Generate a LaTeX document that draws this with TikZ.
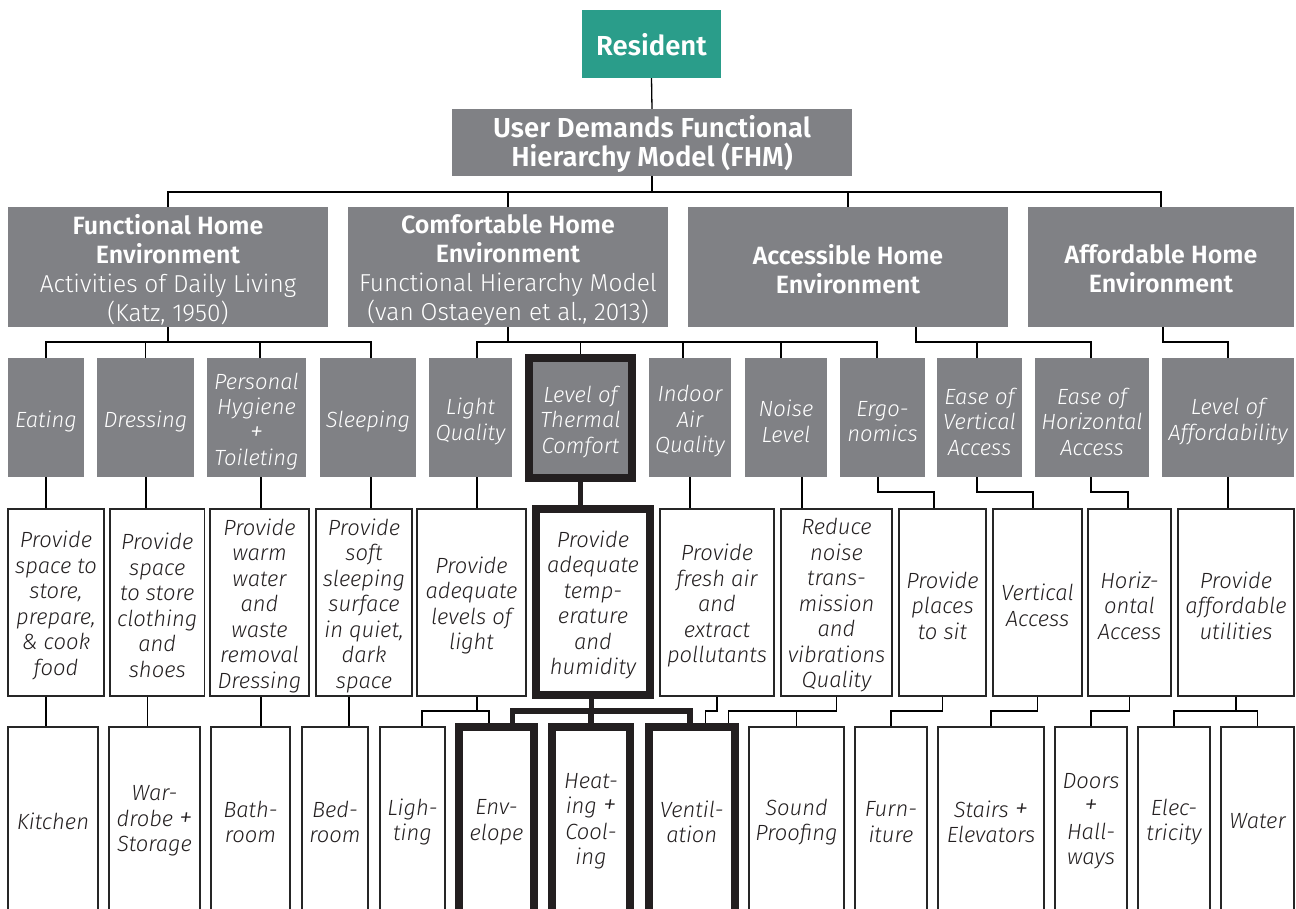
\documentclass[tikz,border=0pt]{standalone}
\usepackage{fontspec}
\setmainfont{Fira Sans}[UprightFont=* Light, ItalicFont=* Light Italic, BoldFont=* SemiBold, BoldItalicFont=* SemiBold Italic]
\definecolor{boxgray}{RGB}{128,129,133}
\definecolor{resteal}{RGB}{42,157,138}
\definecolor{ink}{RGB}{35,31,32}
\newcommand\hdfont{\fontsize{24.5}{29}\selectfont}
\newcommand\bdfont{\fontsize{25}{29}\selectfont\bfseries}
\newcommand\topfont{\fontsize{27.5}{30}\selectfont\bfseries}
\newcommand\itfont{\fontsize{22}{25.5}\selectfont\itshape}
\newcommand\plus{{\fontsize{27}{25.5}\selectfont +}}
% box by its corners: style, name, x1, y1, x2, y2, text, downward text offset
\newcommand\mkbox[8]{%
  \node[#1, minimum width={(#5)-(#3)}, minimum height={(#6)-(#4)}] (#2) at ({((#3)+(#5))/2},{((#4)+(#6))/2}) {};
  \node[#1, fill=none, draw=none] (#2-t) at ([yshift={-(#8)}]#2.center) {#7};}
\pgfdeclarelayer{bg}
\pgfsetlayers{bg,main}
\begin{document}
\begin{tikzpicture}[x=1pt,y=-1pt,
  head/.style={fill=boxgray, text=white, align=center, inner sep=0pt, outer sep=0pt, font=\hdfont},
  res/.style={head, fill=resteal},
  cat/.style={fill=boxgray, text=white, align=center, inner sep=0pt, outer sep=0pt, font=\itfont},
  catsel/.style={cat, draw=ink, line width=8pt},
  req/.style={fill=white, draw=black!85, line width=1.3pt, text=ink, align=center, inner sep=0pt, outer sep=0pt, font=\itfont},
  reqsel/.style={req, draw=ink, line width=8pt},
  conn/.style={draw=black, line width=1.3pt},
  tconn/.style={draw=ink, line width=5.5pt}]
\useasboundingbox (0,0) rectangle (1296,909);

% top of the hierarchy
\mkbox{res}{res}{582}{10}{721}{78}{\topfont Resident}{1}
\mkbox{head}{fhm}{452}{109}{852}{176}{\topfont User Demands Functional\\\topfont Hierarchy Model (FHM)}{1.5}

% home environments
\mkbox{head}{fhe}{8}{207}{328}{327}{\bdfont Functional Home\\\bdfont Environment\\Activities of Daily Living\\(Katz, 1950)}{3}
\mkbox{head}{che}{348}{207}{668}{327}{\bdfont Comfortable Home\\\bdfont Environment\\Functional Hierarchy Model\\(van Ostaeyen et al., 2013)}{3}
\mkbox{head}{ahe}{688}{207}{1008}{327}{\bdfont Accessible Home\\\bdfont Environment}{2}
\mkbox{head}{afe}{1028}{207}{1294}{327}{\bdfont Affordable Home\\\bdfont Environment}{2}

% functions
\mkbox{cat}{eat}{8}{358}{84}{477}{Eating}{4}
\mkbox{cat}{dress}{97}{358}{194}{477}{Dressing}{4}
\mkbox{cat}{hyg}{207}{358}{306}{477}{Personal\\Hygiene\\\plus\\Toileting}{4}
\mkbox{cat}{sleep}{320}{358}{416}{477}{Sleeping}{4}
\mkbox{cat}{lightq}{429}{358}{512}{477}{Light\\Quality}{4}
\mkbox{catsel}{thermal}{529}{358}{632}{477.5}{Level of\\Thermal\\Comfort}{4}
\mkbox{cat}{indoor}{649}{358}{731}{477}{Indoor\\Air\\Quality}{4}
\mkbox{cat}{noise}{745}{358}{827}{477}{Noise\\Level}{4}
\mkbox{cat}{ergo}{840}{358}{925}{477}{Ergo-\\nomics}{4}
\mkbox{cat}{vert}{937}{358}{1022}{477}{Ease of\\Vertical\\Access}{4}
\mkbox{cat}{horiz}{1035}{358}{1149}{477}{Ease of\\Horizontal\\Access}{4}
\mkbox{cat}{aff}{1162}{358}{1294}{477}{Level of\\Affordability}{4}

% requirements
\mkbox{req}{p1}{8}{509}{104}{696}{Provide\\space to\\store,\\prepare,\\\& cook\\food}{3}
\mkbox{req}{p2}{110}{509}{204.5}{696}{Provide\\space\\to store\\clothing\\and\\shoes}{3}
\mkbox{req}{p3}{210}{509}{309}{696}{Provide\\warm\\water\\and\\waste\\removal\\Dressing}{3}
\mkbox{req}{p4}{316}{509}{412}{696}{Provide\\soft\\sleeping\\surface\\in quiet,\\dark\\space}{3}
\mkbox{req}{p5}{417}{509}{526}{696}{Provide\\adequate\\levels of\\light}{3}
\mkbox{reqsel}{p6}{536}{509}{650}{695}{Provide\\adequate\\temp-\\erature\\and\\humidity}{3}
\mkbox{req}{p7}{660}{509}{774}{696}{Provide\\fresh air\\and\\extract\\pollutants}{3}
\mkbox{req}{p8}{781}{509}{892}{696}{Reduce\\noise\\trans-\\mission\\and\\vibrations\\Quality}{3}
\mkbox{req}{p9}{899}{509}{986}{696}{Provide\\places\\to sit}{3}
\mkbox{req}{p10}{993}{509}{1082}{696}{Vertical\\Access}{3}
\mkbox{req}{p11}{1088}{509}{1171}{696}{Horiz-\\ontal\\Access}{3}
\mkbox{req}{p12}{1178}{509}{1294}{696}{Provide\\affordable\\utilities}{3}

% building elements
\mkbox{req}{kit}{8}{727}{98}{915}{Kitchen}{0}
\mkbox{req}{ward}{109}{727}{200}{915}{War-\\drobe \plus\\Storage}{0}
\mkbox{req}{bath}{211}{727}{290}{915}{Bath-\\room}{1}
\mkbox{req}{bed}{302}{727}{368}{915}{Bed-\\room}{1}
\mkbox{req}{lig}{380}{727}{445}{915}{Ligh-\\ting}{1}
\mkbox{reqsel}{env}{459}{727}{534}{915}{Env-\\elope}{1}
\mkbox{reqsel}{heat}{552}{727}{630}{915}{Heat-\\ing \plus\\Cool-\\ing}{0}
\mkbox{reqsel}{vent}{649}{727}{734.5}{915}{Ventil-\\ation}{1}
\mkbox{req}{sound}{749}{727}{844}{915}{Sound\\Proofing}{1}
\mkbox{req}{furn}{855}{727}{927}{915}{Furn-\\iture}{1}
\mkbox{req}{stairs}{938}{727}{1044}{915}{Stairs \plus\\Elevators}{1}
\mkbox{req}{doors}{1055}{727}{1127}{915}{Doors\\\plus\\Hall-\\ways}{0}
\mkbox{req}{elec}{1138}{727}{1210}{915}{Elec-\\tricity}{1}
\mkbox{req}{water}{1221}{727}{1294}{915}{Water}{0}

\begin{pgfonlayer}{bg}
\fill[white] (0,0) rectangle (1296,909);
% resident and model
\draw[conn] (res.south) -- (fhm.north);
\coordinate (j0) at (652,192);
\draw[conn] (fhm.south) -- (j0);
\draw[conn] (fhe.north) |- (j0) -| (afe.north);
\draw[conn] (che.north) -- ++(0,-15);
\draw[conn] (ahe.north) -- ++(0,-15);

% environments to functions
\draw[conn] (fhe.south) -- ++(0,15) coordinate (j1);
\draw[conn] (eat.north) |- (j1) -| ([xshift=3]sleep.north);
\draw[conn] (dress.north) -- ++(0,-16);
\draw[conn] ([xshift=3.5]hyg.north) -- ++(0,-16);

\draw[conn] (che.south) -- ++(0,15) coordinate (j2);
\draw[conn] ([xshift=6.5]lightq.north) |- (j2) -| ([xshift=-5.5]ergo.north);
\draw[conn] (thermal.north) -- ++(0,-16);
\draw[conn] ([xshift=-7]indoor.north) -- ++(0,-16);
\draw[conn] ([xshift=-5]noise.north) -- ++(0,-16);

\draw[conn] ([xshift=68]ahe.south) -- ++(0,15) -| ([xshift=-1]horiz.north);
\draw[conn] ([xshift=-2.5]vert.north) -- ++(0,-16);
\draw[conn] ([xshift=2]afe.south) -- ++(0,15) -| (aff.north);

% functions to requirements
\draw[conn] (eat.south) -- (eat.south |- p1.north);
\draw[conn] ([xshift=0.5]dress.south) -- ++(0,32);
\draw[conn] ([xshift=4.5]hyg.south) -- ++(0,32);
\draw[conn] ([xshift=3]sleep.south) -- ++(0,32);
\draw[conn] ([xshift=6.5]lightq.south) -- ++(0,32);
\draw[conn] (indoor.south) -- (indoor.south |- p7.north);
\draw[conn] ([xshift=16]noise.south) -- ++(0,32);
\draw[conn] ([xshift=-4.5]ergo.south) -- ++(0,15) -| ([xshift=-8.5]p9.north);
\draw[conn] ([xshift=-2.5]vert.south) -- ++(0,15) -| ([xshift=-4.5]p10.north);
\draw[conn] ([xshift=-1]horiz.south) -- ++(0,15) -| ([xshift=-1.5]p11.north);
\draw[conn] (aff.south) -- (aff.south |- p12.north);

% requirements to building elements
\draw[conn] ([xshift=-10]p1.south) -- ++(0,31);
\draw[conn] ([xshift=-10]p2.south) -- ++(0,31);
\draw[conn] ([xshift=1.5]p3.south) -- ++(0,31);
\draw[conn] ([xshift=-15]p4.south) -- ++(0,31);
\draw[conn] ([xshift=5.5]p5.south) -- ++(0,15) coordinate (j5);
\draw[conn] ([xshift=9.5]lig.north) |- (j5) -| ([xshift=-7.5]env.north);
\draw[conn] (p7.south) -- ++(0,15) -| ([xshift=13.4]vent.north);
\draw[conn] (p8.south) -- ++(0,15) -| ([xshift=36.4]vent.north);
\draw[conn] (sound.north) -- ++(0,-16);
\draw[conn] (p9.south) -- ++(0,15) -| (furn.north);
\draw[conn] (p10.south) -- ++(0,15) -| (stairs.north);
\draw[conn] (p11.south) -- ++(0,15) -| (doors.north);
\draw[conn] (p12.south) -- ++(0,15) coordinate (j12);
\draw[conn] (elec.north) |- (j12) -| (water.north);

% the thermal comfort branch
\draw[tconn] (thermal.south) -- (thermal.south |- p6.north);
\draw[tconn] ([xshift=-1.5]p6.south) -- ++(0,16) coordinate (j6);
\draw[tconn] ([xshift=16]env.north) |- (j6) -| ([xshift=-1.6]vent.north);
\draw[tconn] (heat.north) -- ++(0,-16);
\end{pgfonlayer}
\end{tikzpicture}
\end{document}
